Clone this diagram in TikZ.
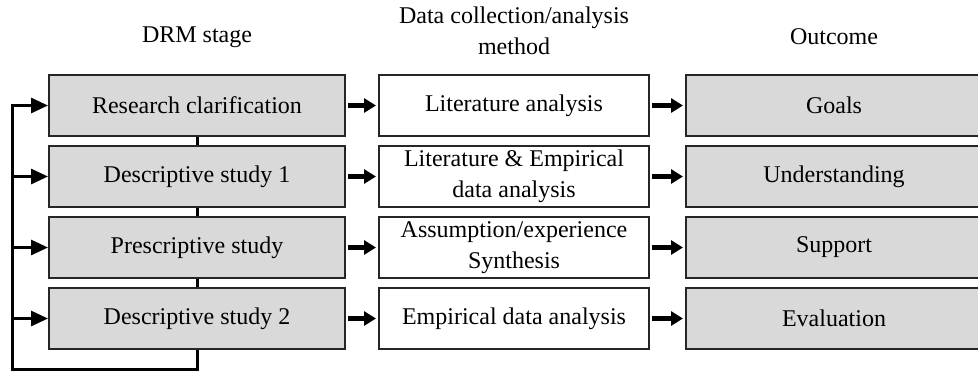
\documentclass[tikz,border=0pt]{standalone}
\usepackage{fontspec}
\setmainfont{Liberation Serif}
\usetikzlibrary{arrows.meta,positioning}
\definecolor{stagegray}{RGB}{217,217,218}
\tikzset{
  stagebox/.style={draw=black!85, line width=1pt, fill=stagegray, minimum width=148pt,
    minimum height=30.5pt, inner sep=1pt, align=center, font=\fontsize{12}{15.5}\selectfont},
  methodbox/.style={stagebox, fill=white, minimum width=135pt},
  headtext/.style={align=center, font=\fontsize{12}{15.5}\selectfont},
  flowarrow/.style={-{Triangle[length=6pt,width=7pt]}, line width=2.5pt, shorten <=1pt, shorten >=1pt},
  looparrow/.style={-{Triangle[length=8.5pt,width=7.5pt]}, line width=1.5pt},
  loopline/.style={line width=1.5pt}
}
\begin{document}
\begin{tikzpicture}[x=0.5pt, y=-0.5pt]
  \useasboundingbox (0,0) rectangle (978,371);
  % Column headings
  \node[headtext] (hstage) at (197,37) {DRM stage};
  \node[headtext] (hmethod) at (514,31) {Data collection/analysis\\method};
  \node[headtext] (hout) at (834,37) {Outcome};
  % DRM stages
  \node[stagebox] (rc) at (197,105.5) {Research clarification};
  \node[stagebox] (ds1) at (197,176.5) {Descriptive study 1};
  \node[stagebox] (ps) at (197,247.5) {Prescriptive study};
  \node[stagebox] (ds2) at (197,318.5) {Descriptive study 2};
  % Methods
  \node[methodbox] (m1) at (514,105.5) {Literature analysis};
  \node[methodbox] (m2) at (514,176.5) {Literature \& Empirical\\data analysis};
  \node[methodbox] (m3) at (514,247.5) {Assumption/experience\\Synthesis};
  \node[methodbox] (m4) at (514,318.5) {Empirical data analysis};
  % Outcomes
  \node[stagebox] (o1) at (834,105.5) {Goals};
  \node[stagebox] (o2) at (834,176.5) {Understanding};
  \node[stagebox] (o3) at (834,247.5) {Support};
  \node[stagebox] (o4) at (834,318.5) {Evaluation};
  % Links between stages
  \draw[loopline] (rc.south) -- (ds1.north);
  \draw[loopline] (ds1.south) -- (ps.north);
  \draw[loopline] (ps.south) -- (ds2.north);
  % Feedback loop back to every stage
  \coordinate (loopbot) at (12,369);
  \draw[looparrow] (ds2.south) -- (ds2.south |- loopbot) -- (loopbot) -- (loopbot |- rc.west) -- (rc.west);
  \draw[looparrow] (loopbot |- ds1.west) -- (ds1.west);
  \draw[looparrow] (loopbot |- ps.west) -- (ps.west);
  \draw[looparrow] (loopbot |- ds2.west) -- (ds2.west);
  % Stage -> method -> outcome
  \foreach \s/\m/\o in {rc/m1/o1, ds1/m2/o2, ps/m3/o3, ds2/m4/o4} {
    \draw[flowarrow] (\s.east) -- (\m.west);
    \draw[flowarrow] (\m.east) -- (\o.west);
  }
\end{tikzpicture}
\end{document}
